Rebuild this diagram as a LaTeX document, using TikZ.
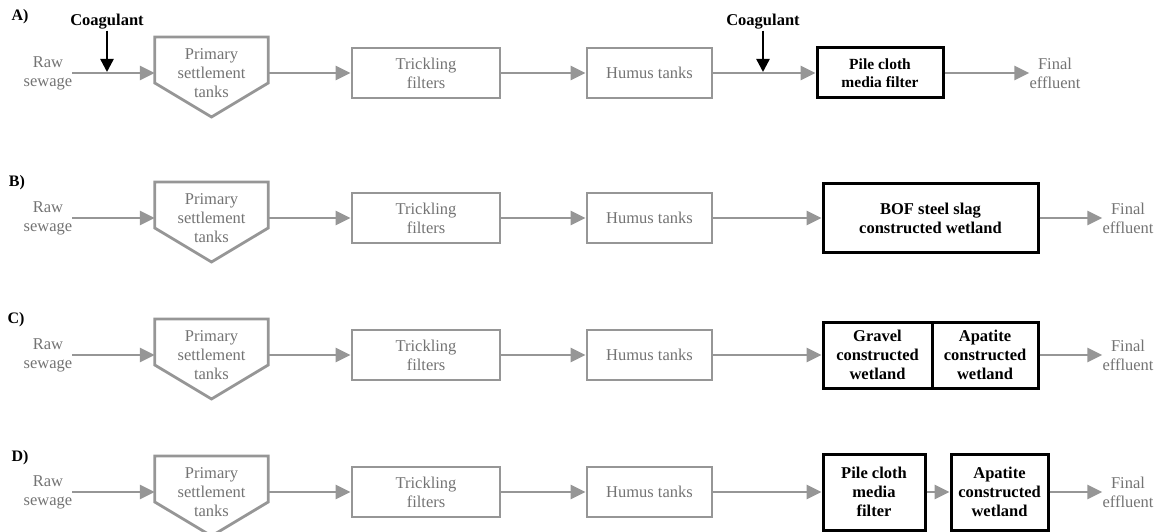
\documentclass[tikz,border=0pt]{standalone}
\usepackage{fontspec}
\setmainfont{Liberation Serif}
\usetikzlibrary{arrows.meta,calc}
\definecolor{linegray}{RGB}{150,150,150}
\definecolor{textgray}{RGB}{115,115,115}
\tikzset{
  flow/.style={draw=linegray, line width=2.8pt, -{Triangle[length=15pt,width=14pt]}},
  dose/.style={draw=black, line width=2.4pt, -{Triangle[length=13pt,width=13pt]}},
  graytext/.style={text=textgray, align=center, inner sep=0pt,
    font=\fontsize{16.5}{19}\selectfont},
  graybox/.style={graytext, draw=linegray, line width=2.8pt, minimum height=50pt},
  blackbox/.style={draw=black, line width=3pt, align=center, inner sep=0pt,
    font=\bfseries\fontsize{16.5}{19}\selectfont},
  coag/.style={font=\bfseries\fontsize{16.5}{19}\selectfont, inner sep=1pt},
  rowlabel/.style={font=\bfseries\fontsize{16}{19}\selectfont, inner sep=0pt}
}
\begin{document}
\begin{tikzpicture}
  [x=1pt,y=-1pt]
  \useasboundingbox (0,0) rectangle (1165,532);

  % common chain of every scheme
  \foreach \r/\L in {A/73,B/218,C/355,D/492} {
    \node[graytext] (raw\r) at (48,\L) {Raw\\sewage};
    \node[graytext, minimum width=113pt] (pst\r) at (211.5,\L) {Primary\\settlement\\tanks};
    \draw[linegray, line width=2.8pt, line join=miter]
      ($(pst\r.west)+(0,-36)$) -- ($(pst\r.east)+(0,-36)$) -- ($(pst\r.east)+(0,10)$)
      -- ($(pst\r.center)+(0,44)$) -- ($(pst\r.west)+(0,10)$) -- cycle;
    \node[graybox, minimum width=148pt] (tf\r) at (426,\L) {Trickling\\filters};
    \node[graybox, minimum width=125pt] (hum\r) at (649.5,\L) {Humus tanks};
    \draw[flow] (raw\r.east) -- (pst\r.west);
    \draw[flow] (pst\r.east) -- (tf\r.west);
    \draw[flow] (tf\r.east) -- (hum\r.west);
  }

  \node[rowlabel] (labA) at (20,17) {A)};
  \node[rowlabel] (labB) at (17,183) {B)};
  \node[rowlabel] (labC) at (16,320) {C)};
  \node[rowlabel] (labD) at (20,458) {D)};

  % A) coagulant dosing and pile cloth filter
  \node[blackbox, minimum width=126pt, minimum height=50pt,
    font=\bfseries\fontsize{15.5}{18}\selectfont] (pcfA) at (880,73) {Pile cloth\\media filter};
  \node[graytext] (finA) at (1055,73) {Final\\effluent};
  \draw[flow] (humA.east) -- (pcfA.west);
  \draw[flow] (pcfA.east) -- (finA.west);
  \node[coag] (coag1) at (107,22) {Coagulant};
  \node[coag] (coag2) at (763,22) {Coagulant};
  \coordinate (dos1) at (107,72);
  \coordinate (dos2) at (763,72);
  \draw[dose] (coag1.south) -- (dos1);
  \draw[dose] (coag2.south) -- (dos2);

  % B) steel slag wetland
  \node[blackbox, minimum width=215pt, minimum height=68pt] (bofB) at (930.5,218)
    {BOF steel slag\\constructed wetland};
  \node[graytext] (finB) at (1128,218) {Final\\effluent};
  \draw[flow] (humB.east) -- (bofB.west);
  \draw[flow] (bofB.east) -- (finB.west);

  % C) gravel + apatite wetlands
  \node[blackbox, minimum width=109pt, minimum height=66pt] (gcwC) at (877.5,355)
    {Gravel\\constructed\\wetland};
  \node[blackbox, minimum width=106pt, minimum height=66pt] (acwC) at (985,355)
    {Apatite\\constructed\\wetland};
  \node[graytext] (finC) at (1128,355) {Final\\effluent};
  \draw[flow] (humC.east) -- (gcwC.west);
  \draw[flow] (acwC.east) -- (finC.west);

  % D) pile cloth filter + apatite wetland
  \node[blackbox, minimum width=102pt, minimum height=76pt] (pcfD) at (874,492)
    {Pile cloth\\media\\filter};
  \node[blackbox, minimum width=97pt, minimum height=76pt] (acwD) at (999.5,492)
    {Apatite\\constructed\\wetland};
  \node[graytext] (finD) at (1128,492) {Final\\effluent};
  \draw[flow] (humD.east) -- (pcfD.west);
  \draw[flow] (pcfD.east) -- (acwD.west);
  \draw[flow] (acwD.east) -- (finD.west);
\end{tikzpicture}
\end{document}
